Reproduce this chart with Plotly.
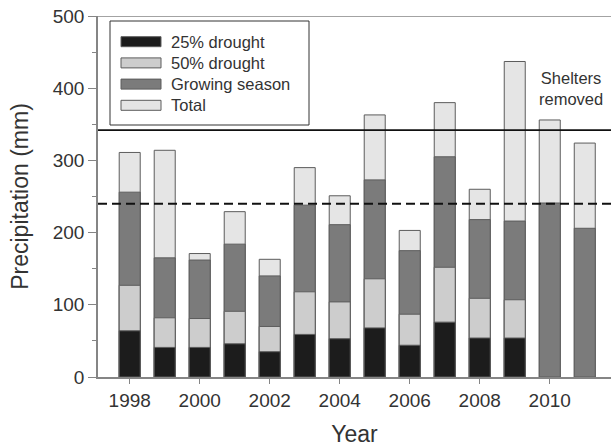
import plotly.graph_objects as go

# Annual precipitation (mm) per treatment, 1998-2011
years = list(range(1998, 2012))
drought25 = [64, 41, 41, 46, 35, 59, 53, 68, 44, 76, 54, 54, None, None]
drought50 = [127, 82, 81, 91, 70, 118, 104, 136, 87, 152, 109, 107, None, None]
growing = [256, 165, 162, 184, 140, 238, 211, 273, 175, 305, 218, 216, 241, 206]
total = [311, 314, 171, 229, 163, 290, 251, 363, 203, 380, 260, 437, 356, 324]

series_names = ["25% drought", "50% drought", "Growing season", "Total"]
series_colors = ["#1c1c1c", "#cdcdcd", "#7b7b7b", "#e5e5e5"]
series_values = [drought25, drought50, growing, total]

mean_total = 342      # long-term mean annual precipitation
mean_growing = 240    # long-term mean growing-season precipitation
year_ticks = list(range(1998, 2011, 2))
y_max = 500

W, H = 611, 447
L, R, T, B = 98, 0, 16, 70
FONT = "Liberation Sans, Arial, sans-serif"
TXT = "#333333"
AXIS = "#858585"
EDGE = "#5c5c5c"

fig = go.Figure()
# overlaid bars: largest (total) at the back, smallest in front
for name, color, vals in reversed(list(zip(series_names, series_colors, series_values))):
    xs = [yr for yr, v in zip(years, vals) if v is not None]
    ys = [v for v in vals if v is not None]
    fig.add_trace(go.Bar(x=xs, y=ys, name=name, width=0.6,
                         marker=dict(color=color, line=dict(color=EDGE, width=1)),
                         showlegend=False))

fig.add_hline(y=mean_total, line=dict(color="#111111", width=1.8), layer="above")
fig.add_hline(y=mean_growing, line=dict(color="#111111", width=2, dash="9px,5px"), layer="above")
# top frame line
fig.add_hline(y=y_max, line=dict(color=AXIS, width=1.5), layer="above")

# legend box drawn with paper-coordinate shapes
pw, ph = W - L - R, H - T - B
def px(xp):
    return (xp - L) / pw
def py(yp):
    return (H - B - yp) / ph

fig.add_shape(type="rect", xref="paper", yref="paper",
              x0=px(110), x1=px(309), y0=py(125), y1=py(21),
              line=dict(color="#333333", width=1), fillcolor="white", layer="above")
rows = [41.7, 62.9, 84.1, 105.3]
for name, color, yc in zip(series_names, series_colors, rows):
    fig.add_shape(type="rect", xref="paper", yref="paper",
                  x0=px(121), x1=px(161), y0=py(yc + 5), y1=py(yc - 5),
                  line=dict(color=EDGE, width=1), fillcolor=color, layer="above")
    fig.add_annotation(x=px(169), y=py(yc), xref="paper", yref="paper",
                       text=name, showarrow=False, xanchor="left", yanchor="middle",
                       font=dict(family=FONT, size=16.5, color=TXT))

fig.add_annotation(x=2010.62, y=399, text="Shelters<br>removed", showarrow=False,
                   font=dict(family=FONT, size=16.5, color=TXT))

fig.update_layout(width=W, height=H, margin=dict(l=L, r=R, t=T, b=B), barmode="overlay",
                  plot_bgcolor="white", paper_bgcolor="white", font=dict(family=FONT, color=TXT))
fig.update_xaxes(range=[1997.094, 2011.75], tickvals=year_ticks, ticks="outside", ticklen=5,
                 tickcolor=AXIS, tickwidth=1.2, showline=True, linecolor=AXIS, linewidth=1.5,
                 showgrid=False, zeroline=False, tickfont=dict(size=19, color=TXT),
                 title=dict(text="Year", font=dict(size=23, color=TXT), standoff=16))
fig.update_yaxes(range=[0, y_max], dtick=100, ticks="outside", ticklen=8, tickcolor=AXIS, tickwidth=1.2,
                 minor=dict(dtick=50, ticks="outside", ticklen=4, tickcolor=AXIS, tickwidth=1.2),
                 showline=True, linecolor=AXIS, linewidth=1.5, showgrid=False, zeroline=False,
                 tickfont=dict(size=19, color=TXT),
                 title=dict(text="Precipitation (mm)", font=dict(size=23, color=TXT), standoff=18))

fig.write_html("out.html")
